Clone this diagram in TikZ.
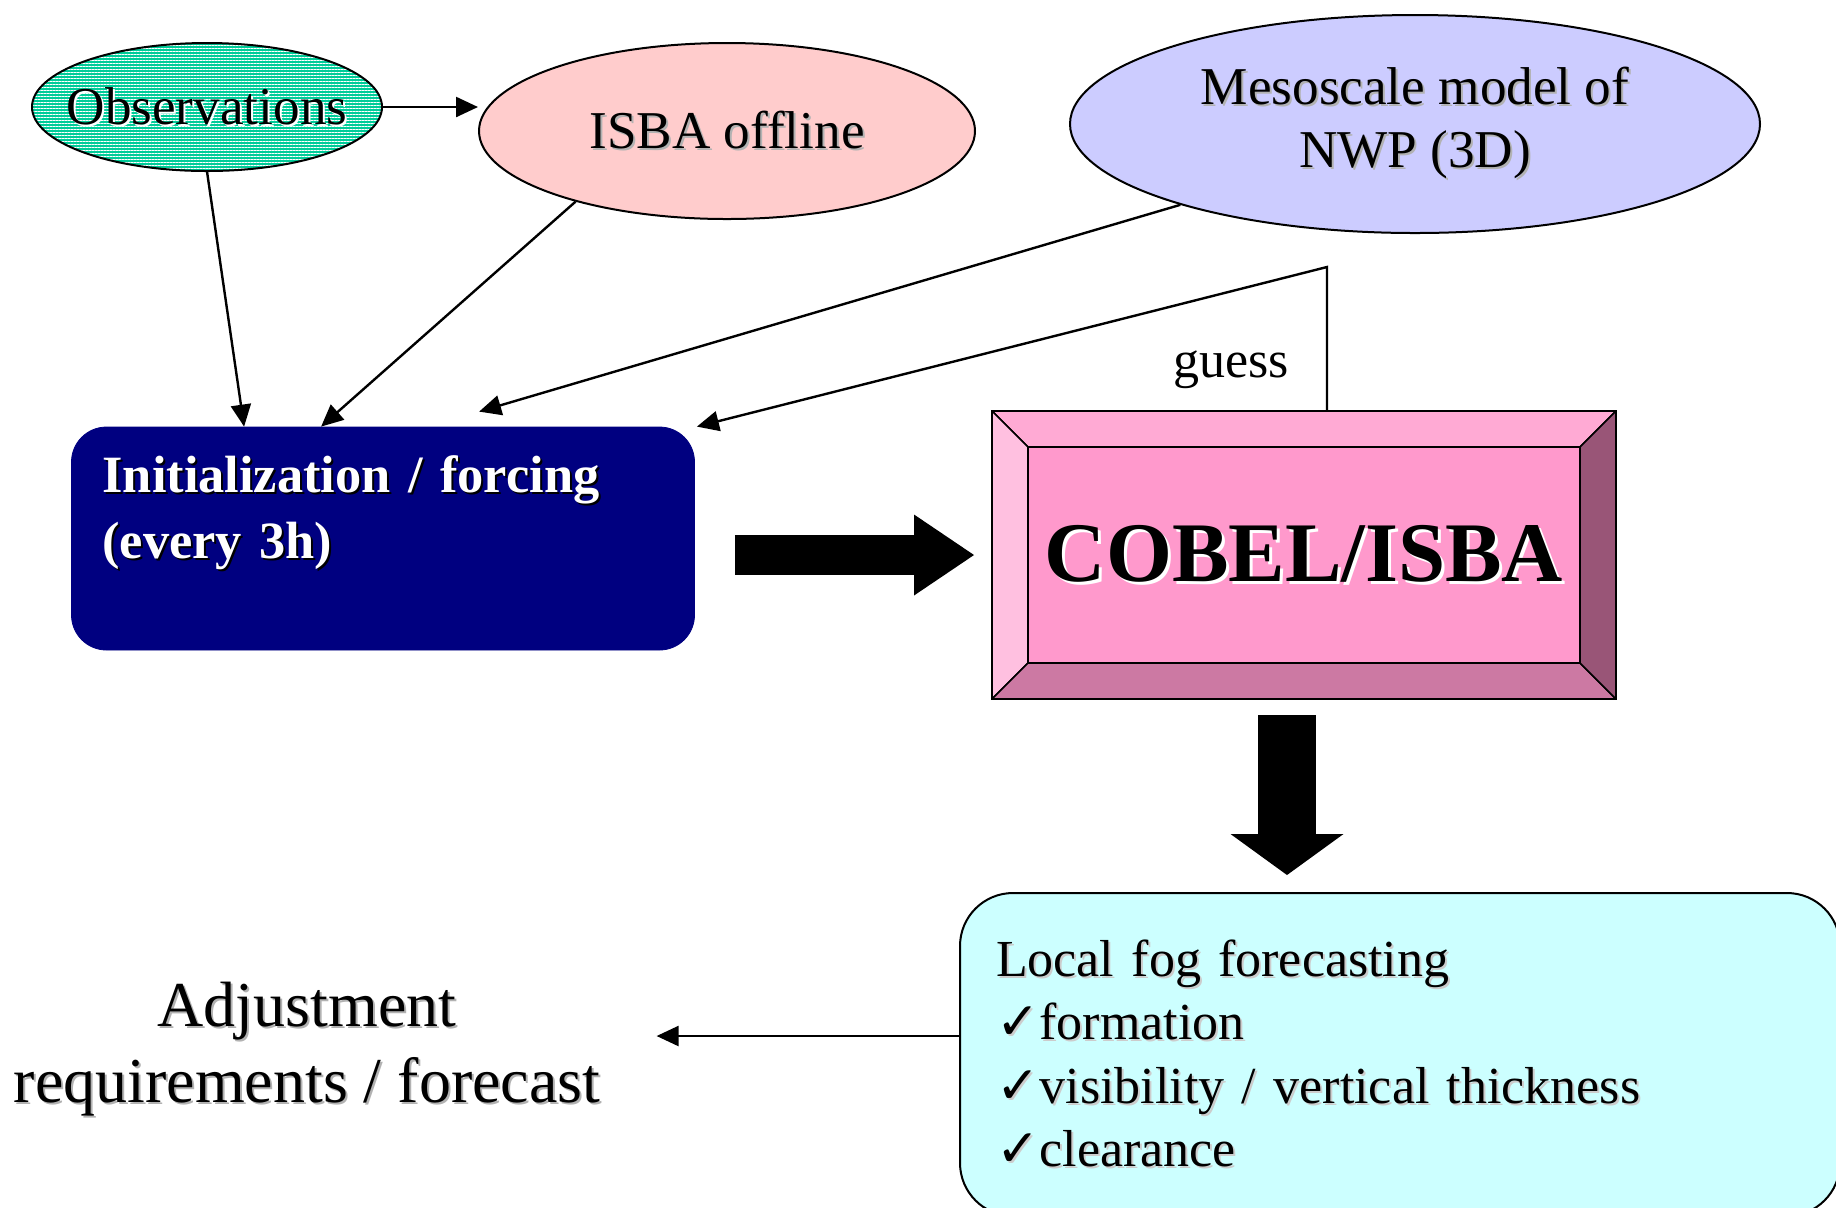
\documentclass[tikz,border=0pt]{standalone}
\usepackage{fontspec}
\setmainfont{Liberation Serif}
\newfontfamily\symf{DejaVu Sans}
\usepackage{xcolor}
\usetikzlibrary{shapes.geometric, arrows.meta, positioning, patterns.meta, calc}

\definecolor{obsgreen}{RGB}{0,204,153}
\definecolor{isbapink}{RGB}{255,204,204}
\definecolor{mesoblue}{RGB}{204,204,255}
\definecolor{initnavy}{RGB}{0,0,128}
\definecolor{fogcyan}{RGB}{204,255,255}
\definecolor{cobelmid}{RGB}{255,153,204}
\definecolor{cobeltop}{RGB}{255,170,212}
\definecolor{cobelleft}{RGB}{255,192,224}
\definecolor{cobelbot}{RGB}{204,121,163}
\definecolor{cobelright}{RGB}{153,85,119}

% text with a small drop shadow
\newcommand{\shtext}[3][1pt]{\leavevmode\rlap{\kern#1\raisebox{-#1}{\textcolor{#2}{#3}}}#3}

\begin{document}
\begin{tikzpicture}[
    x=0.5pt, y=-0.5pt,
    source/.style={ellipse, draw, line width=1pt, align=center, font=\fontsize{26.6}{31.6}\selectfont},
    inputbox/.style={rectangle, rounded corners=17.5pt, draw=initnavy, fill=initnavy, text=white, text width=280.5pt, inner xsep=15.5pt, minimum width=311.5pt, minimum height=111.5pt, align=left, text depth=64pt, font=\bfseries\fontsize{26.2}{33}\selectfont},
    model/.style={rectangle, draw, line width=1pt, fill=cobelmid, minimum width=312pt, minimum height=144pt, font=\bfseries\fontsize{42.4}{50}\selectfont,
        path picture={
            \path (path picture bounding box.north west) coordinate (nw) (path picture bounding box.south east) coordinate (se);
            \filldraw[fill=cobeltop, line width=0.8pt] (nw) -- (nw -| se) -- ($(nw -| se)+(-18pt,-18pt)$) -- ($(nw)+(18pt,-18pt)$) -- cycle;
            \filldraw[fill=cobelleft, line width=0.8pt] (nw) -- (nw |- se) -- ($(nw |- se)+(18pt,18pt)$) -- ($(nw)+(18pt,-18pt)$) -- cycle;
            \filldraw[fill=cobelbot, line width=0.8pt] (nw |- se) -- (se) -- ($(se)+(-18pt,18pt)$) -- ($(nw |- se)+(18pt,18pt)$) -- cycle;
            \filldraw[fill=cobelright, line width=0.8pt] (se) -- (nw -| se) -- ($(nw -| se)+(-18pt,-18pt)$) -- ($(se)+(-18pt,18pt)$) -- cycle;
        }},
    outputbox/.style={rectangle, rounded corners=26.5pt, draw, line width=1pt, fill=fogcyan, text width=404pt, inner xsep=18pt, minimum height=161.5pt, align=left, font=\fontsize{26}{31.8}\selectfont},
    note/.style={align=center, font=\fontsize{32}{38}\selectfont},
    arrow/.style={line width=1.2pt, -{Triangle[length=11pt, width=10pt]}},
    bigarrow/.style={line width=20pt, -{Triangle[length=30pt, width=40.5pt, line width=0pt]}}
]
    \useasboundingbox (0,0) rectangle (1836,1207);

    % Sources
    \node[source, minimum width=175pt, minimum height=64pt, inner xsep=-10pt,
          preaction={fill=obsgreen}, pattern={Lines[angle=0, distance=1.5pt, line width=0.5pt]}, pattern color=white]
          (obs) at (207,107) {\shtext{white}{Observations}};
    \node[source, fill=isbapink, minimum width=248pt, minimum height=88pt]
          (isba) at (727,131) {\shtext{gray!60}{ISBA offline}};
    \node[source, fill=mesoblue, minimum width=345pt, minimum height=109pt]
          (meso) at (1415,124) {\shtext{gray!60}{Mesoscale model of}\\\shtext{gray!60}{NWP (3D)}};

    % Models
    \node[inputbox] (init) at (383,538.5) {\shtext{black}{Initialization / forcing}\\\shtext{black}{(every 3h)}};
    \node[model] (cobel) at (1304,555) {\shtext[1.5pt]{white}{COBEL/ISBA}};

    % Outputs
    \node[outputbox, anchor=north west] (local) at (959,892)
        {\shtext{gray!40}{Local fog forecasting}\\
         \shtext{gray!40}{{\symf ✓}formation}\\
         \shtext{gray!40}{{\symf ✓}visibility / vertical thickness}\\
         \shtext{gray!40}{{\symf ✓}clearance}};
    \node[note, inner xsep=28pt] (adjust) at (307,1050)
        {\shtext{gray!60}{Adjustment}\\\shtext{gray!60}{requirements / forecast}};

    % Arrows
    \draw[arrow] (obs.east) -- (obs.east -| isba.west);
    \draw[arrow] (obs.south) -- ([xshift=86.5pt]init.north west);
    \draw[arrow] (isba.205) -- ([xshift=125pt]init.north west);
    \draw[arrow] (meso.199) -- ([xshift=204pt, yshift=7.5pt]init.north west);
    \coordinate (bend) at (1327,267);
    \draw[arrow] (cobel.north -| bend) -- (bend) -- ([xshift=1pt]init.north east);
    \node[font=\fontsize{26}{31}\selectfont] (guess) at (1231,370) {guess};
    \draw[bigarrow, shorten <=20pt, shorten >=8.5pt] (init.east |- cobel.west) -- (cobel.west);
    \draw[bigarrow, line width=29pt, -{Triangle[length=20.5pt, width=56.5pt, line width=0pt]}, shorten <=7.5pt, shorten >=8.5pt]
        ([xshift=-8.5pt]cobel.south) -- ([xshift=-8.5pt]cobel.south |- local.north);
    \draw[arrow] ([yshift=9.25pt]local.west) -- ([yshift=9.25pt]local.west -| adjust.east);
\end{tikzpicture}
\end{document}
